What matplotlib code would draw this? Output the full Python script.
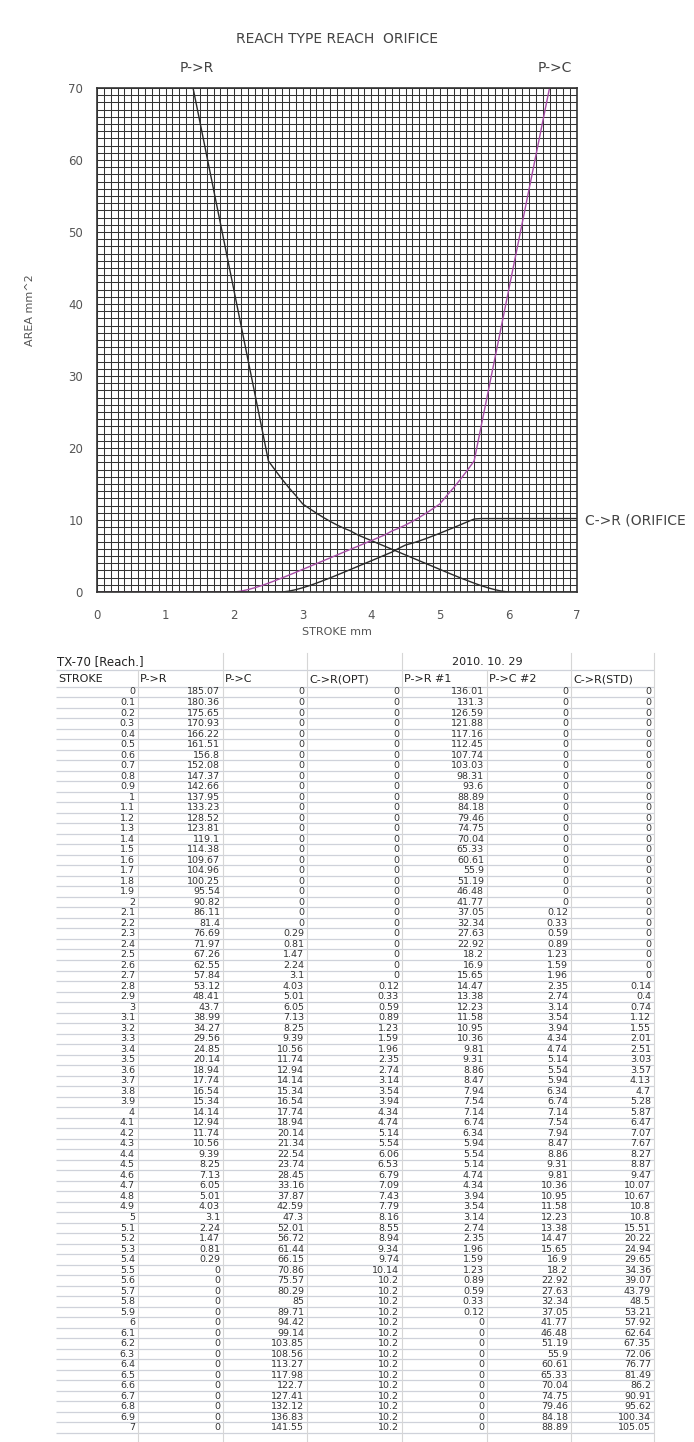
import matplotlib
matplotlib.use("Agg")
import matplotlib.pyplot as plt
import numpy as np

STROKE = [0, 0.1, 0.2, 0.3, 0.4, 0.5, 0.6, 0.7, 0.8, 0.9,
          1, 1.1, 1.2, 1.3, 1.4, 1.5, 1.6, 1.7, 1.8, 1.9,
          2, 2.1, 2.2, 2.3, 2.4, 2.5, 2.6, 2.7, 2.8, 2.9,
          3, 3.1, 3.2, 3.3, 3.4, 3.5, 3.6, 3.7, 3.8, 3.9,
          4, 4.1, 4.2, 4.3, 4.4, 4.5, 4.6, 4.7, 4.8, 4.9,
          5, 5.1, 5.2, 5.3, 5.4, 5.5, 5.6, 5.7, 5.8, 5.9,
          6, 6.1, 6.2, 6.3, 6.4, 6.5, 6.6, 6.7, 6.8, 6.9, 7]

P_R = [185.07, 180.36, 175.65, 170.93, 166.22, 161.51, 156.8, 152.08, 147.37, 142.66,
       137.95, 133.23, 128.52, 123.81, 119.1, 114.38, 109.67, 104.96, 100.25, 95.54,
       90.82, 86.11, 81.4, 76.69, 71.97, 67.26, 62.55, 57.84, 53.12, 48.41,
       43.7, 38.99, 34.27, 29.56, 24.85, 20.14, 18.94, 17.74, 16.54, 15.34,
       14.14, 12.94, 11.74, 10.56, 9.39, 8.25, 7.13, 6.05, 5.01, 4.03,
       3.1, 2.24, 1.47, 0.81, 0.29, 0, 0, 0, 0, 0,
       0, 0, 0, 0, 0, 0, 0, 0, 0, 0, 0]

P_C = [0, 0, 0, 0, 0, 0, 0, 0, 0, 0,
       0, 0, 0, 0, 0, 0, 0, 0, 0, 0,
       0, 0, 0, 0.29, 0.81, 1.47, 2.24, 3.1, 4.03, 5.01,
       6.05, 7.13, 8.25, 9.39, 10.56, 11.74, 12.94, 14.14, 15.34, 16.54,
       17.74, 18.94, 20.14, 21.34, 22.54, 23.74, 28.45, 33.16, 37.87, 42.59,
       47.3, 52.01, 56.72, 61.44, 66.15, 70.86, 75.57, 80.29, 85, 89.71,
       94.42, 99.14, 103.85, 108.56, 113.27, 117.98, 122.7, 127.41, 132.12, 136.83, 141.55]

C_R_OPT = [0, 0, 0, 0, 0, 0, 0, 0, 0, 0,
           0, 0, 0, 0, 0, 0, 0, 0, 0, 0,
           0, 0, 0, 0, 0, 0, 0, 0, 0.12, 0.33,
           0.59, 0.89, 1.23, 1.59, 1.96, 2.35, 2.74, 3.14, 3.54, 3.94,
           4.34, 4.74, 5.14, 5.54, 6.06, 6.53, 6.79, 7.09, 7.43, 7.79,
           8.16, 8.55, 8.94, 9.34, 9.74, 10.14, 10.2, 10.2, 10.2, 10.2,
           10.2, 10.2, 10.2, 10.2, 10.2, 10.2, 10.2, 10.2, 10.2, 10.2, 10.2]

P_R_1 = [136.01, 131.3, 126.59, 121.88, 117.16, 112.45, 107.74, 103.03, 98.31, 93.6,
         88.89, 84.18, 79.46, 74.75, 70.04, 65.33, 60.61, 55.9, 51.19, 46.48,
         41.77, 37.05, 32.34, 27.63, 22.92, 18.2, 16.9, 15.65, 14.47, 13.38,
         12.23, 11.58, 10.95, 10.36, 9.81, 9.31, 8.86, 8.47, 7.94, 7.54,
         7.14, 6.74, 6.34, 5.94, 5.54, 5.14, 4.74, 4.34, 3.94, 3.54,
         3.14, 2.74, 2.35, 1.96, 1.59, 1.23, 0.89, 0.59, 0.33, 0.12,
         0, 0, 0, 0, 0, 0, 0, 0, 0, 0, 0]

P_C_2 = [0, 0, 0, 0, 0, 0, 0, 0, 0, 0,
         0, 0, 0, 0, 0, 0, 0, 0, 0, 0,
         0, 0.12, 0.33, 0.59, 0.89, 1.23, 1.59, 1.96, 2.35, 2.74,
         3.14, 3.54, 3.94, 4.34, 4.74, 5.14, 5.54, 5.94, 6.34, 6.74,
         7.14, 7.54, 7.94, 8.47, 8.86, 9.31, 9.81, 10.36, 10.95, 11.58,
         12.23, 13.38, 14.47, 15.65, 16.9, 18.2, 22.92, 27.63, 32.34, 37.05,
         41.77, 46.48, 51.19, 55.9, 60.61, 65.33, 70.04, 74.75, 79.46, 84.18, 88.89]

C_R_STD = [0, 0, 0, 0, 0, 0, 0, 0, 0, 0,
           0, 0, 0, 0, 0, 0, 0, 0, 0, 0,
           0, 0, 0, 0, 0, 0, 0, 0, 0.14, 0.4,
           0.74, 1.12, 1.55, 2.01, 2.51, 3.03, 3.57, 4.13, 4.7, 5.28,
           5.87, 6.47, 7.07, 7.67, 8.27, 8.87, 9.47, 10.07, 10.67, 10.8,
           10.8, 15.51, 20.22, 24.94, 29.65, 34.36, 39.07, 43.79, 48.5, 53.21,
           57.92, 62.64, 67.35, 72.06, 76.77, 81.49, 86.2, 90.91, 95.62, 100.34, 105.05]

HEADERS = ["STROKE", "P->R", "P->C", "C->R(OPT)", "P->R #1", "P->C #2", "C->R(STD)"]
COLUMNS = [STROKE, P_R, P_C, C_R_OPT, P_R_1, P_C_2, C_R_STD]
X_TICKS = [0, 1, 2, 3, 4, 5, 6, 7]
Y_TICKS = [0, 10, 20, 30, 40, 50, 60, 70]

W, H = 694, 1442
GRID = "#333333"
TXT = "#555555"


def fmt(v):
    return f"{v:g}"


fig = plt.figure(figsize=(W / 100, H / 100), dpi=100)
fig.patch.set_facecolor("white")

# ── Chart ────────────────────────────────────────────────────────────────
ax = fig.add_axes([97 / W, 1 - 592 / H, 480 / W, 504 / H])
ax.set_xlim(0, 7)
ax.set_ylim(0, 70)
ax.set_xticks(X_TICKS)
ax.set_yticks(Y_TICKS)
ax.set_xticks(np.arange(0, 7.001, 0.1), minor=True)
ax.set_yticks(np.arange(0, 70.001, 1), minor=True)
ax.grid(which="both", color=GRID, linewidth=0.75, zorder=1)
ax.tick_params(which="both", length=0)
ax.tick_params(axis="x", labelsize=8.5, labelcolor=TXT, pad=12)
ax.tick_params(axis="y", labelsize=8.5, labelcolor=TXT, pad=10)
for sp in ax.spines.values():
    sp.set_color(GRID)
    sp.set_linewidth(1.2)
    sp.set_zorder(5)
ax.set_axisbelow(True)

ax.plot(STROKE, P_R_1, color="#2a2a2a", linewidth=1.0, zorder=3)
ax.plot(STROKE, P_C_2, color="#a64ca6", linewidth=1.0, zorder=3)
ax.plot(STROKE, C_R_OPT, color="#2a2a2a", linewidth=1.0, zorder=3)

ax.set_xlabel("STROKE mm", fontsize=8, color=TXT, labelpad=4)
ax.set_ylabel("AREA mm^2", fontsize=8, color=TXT)
ax.yaxis.set_label_coords(-0.13, 0.56)

ax.text(3.5, 76.8, "REACH TYPE REACH  ORIFICE", ha="center", va="center",
        fontsize=10, color="#444444", clip_on=False)
ax.text(1.45, 72.8, "P->R", ha="center", va="center", fontsize=10,
        color="#444444", clip_on=False)
ax.text(6.68, 72.8, "P->C", ha="center", va="center", fontsize=10,
        color="#444444", clip_on=False)
ax.text(7.12, 10, "C->R (ORIFICE", ha="left", va="center", fontsize=10,
        color="#444444", clip_on=False)

# ── Spreadsheet table below the chart (pixel coordinates) ────────────────
tab = fig.add_axes([0, 0, 1, 1])
tab.set_xlim(0, W)
tab.set_ylim(H, 0)
tab.axis("off")
tab.patch.set_alpha(0)

col_edges = [56, 138, 223, 307, 402, 487, 571, 654]
row0, row_h = 692, 10.51
n = len(STROKE)

# horizontal row lines
hl = [670, 687] + [row0 + (i + 0.5) * row_h for i in range(n)]
for y in hl:
    tab.plot([col_edges[0], col_edges[-1]], [y, y], color="#cfd2da",
             linewidth=0.9, solid_capstyle="butt")

# vertical column lines
for x in col_edges[1:]:
    top = 670 if x in (138, 487) else 653
    tab.plot([x, x], [top, H], color="#d6d6d6", linewidth=0.8)

tab.text(57, 662, "TX-70 [Reach.]", ha="left", va="center", fontsize=8.5,
         color="#222222")
tab.text(487, 662, "2010. 10. 29", ha="center", va="center", fontsize=8,
         color="#222222")
for i, h in enumerate(HEADERS):
    tab.text(col_edges[i] + 2, 679, h, ha="left", va="center", fontsize=8,
             color="#222222")

for c, col in enumerate(COLUMNS):
    xr = col_edges[c + 1] - 3
    for r, v in enumerate(col):
        tab.text(xr, row0 + r * row_h, fmt(v), ha="right", va="center",
                 fontsize=6.8, color="#333333")

fig.savefig("out.png", dpi=100, facecolor="white")
